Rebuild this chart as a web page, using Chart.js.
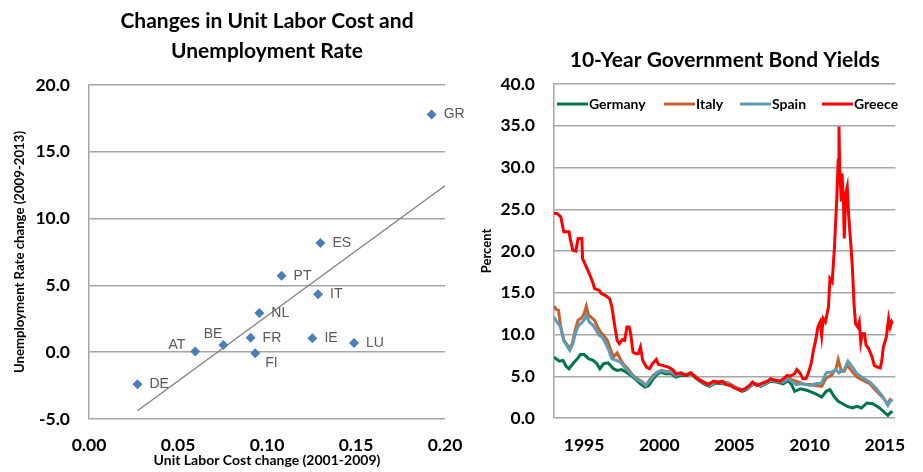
<!DOCTYPE html>
<html>
<head>
<meta charset="utf-8">
<script src="https://cdn.jsdelivr.net/npm/chart.js@4"></script>
<style>
  html, body { margin: 0; padding: 0; background: #fff; }
  body { width: 923px; height: 472px; position: relative; overflow: hidden; }
  canvas { position: absolute; top: 0; }
  #ulcChart { left: 0; }
  #bondChart { left: 470px; }
</style>
</head>
<body>
<canvas id="ulcChart" width="490" height="472"></canvas>
<canvas id="bondChart" width="453" height="472"></canvas>
<script>
// left chart: ULC change vs unemployment change
const countries = ["GR", "ES", "PT", "IT", "NL", "FR", "IE", "LU", "FI", "BE", "AT", "DE"];
const ulcChange = [0.1925, 0.130, 0.1082, 0.1287, 0.0957, 0.0908, 0.1255, 0.1489, 0.0934, 0.0755, 0.0597, 0.0272];
const unempChange = [17.8, 8.17, 5.73, 4.33, 2.93, 1.09, 1.04, 0.69, -0.08, 0.54, 0.06, -2.40];
const trendX = [0.0272, 0.2];
const trendY = [-4.38, 12.46];
const ulcTicks = [0, 0.05, 0.10, 0.15, 0.20];

// right chart: 10y yields, [year, percent]
const years = [1995, 2000, 2005, 2010, 2015];
const germany = [
  [1993.0, 7.3], [1993.35, 6.8], [1993.6, 6.9], [1993.8, 6.2], [1994.0, 5.9], [1994.3, 6.6], [1994.6, 7.2],
  [1994.75, 7.6], [1995.0, 7.6], [1995.3, 7.1], [1995.6, 6.9], [1995.85, 6.5], [1996.05, 5.9], [1996.3, 6.5],
  [1996.6, 6.6], [1996.95, 5.9], [1997.2, 5.7], [1997.5, 5.8], [1997.8, 5.5], [1998.1, 5.1], [1998.45, 4.6],
  [1998.75, 4.1], [1999.05, 3.7], [1999.3, 3.9], [1999.6, 4.7], [1999.85, 5.2], [2000.1, 5.5], [2000.4, 5.3],
  [2000.8, 5.3], [2001.1, 4.9], [2001.45, 5.1], [2001.85, 5.1], [2002.1, 5.3], [2002.4, 4.8], [2002.7, 4.4],
  [2003.05, 4.0], [2003.35, 3.8], [2003.75, 4.2], [2004.2, 4.1], [2004.6, 4.0], [2005.05, 3.6], [2005.5, 3.2],
  [2005.8, 3.4], [2006.2, 4.0], [2006.5, 4.0], [2006.75, 3.8], [2007.1, 4.1], [2007.4, 4.4], [2007.8, 4.3],
  [2008.25, 4.1], [2008.55, 4.5], [2008.8, 4.0], [2009.0, 3.2], [2009.4, 3.5], [2009.85, 3.3], [2010.4, 2.9],
  [2010.8, 2.5], [2011.1, 3.2], [2011.35, 3.4], [2011.65, 2.5], [2011.9, 2.0], [2012.1, 1.8], [2012.5, 1.4],
  [2012.85, 1.2], [2013.15, 1.4], [2013.45, 1.2], [2013.8, 1.8], [2014.2, 1.7], [2014.65, 1.2], [2015.2, 0.3],
  [2015.35, 0.6], [2015.5, 0.8]
];
const italy = [
  [1993.0, 13.4], [1993.15, 13.0], [1993.3, 12.9], [1993.45, 10.8], [1993.65, 9.3], [1993.9, 8.7], [1994.05, 8.3],
  [1994.25, 9.1], [1994.4, 10.5], [1994.6, 11.7], [1994.85, 12.0], [1995.0, 12.5], [1995.15, 13.4], [1995.3, 12.3],
  [1995.45, 12.1], [1995.7, 11.7], [1995.9, 10.9], [1996.1, 10.3], [1996.3, 9.9], [1996.55, 9.3], [1996.75, 8.3],
  [1996.95, 7.3], [1997.2, 7.8], [1997.4, 7.1], [1997.6, 6.5], [1997.9, 5.9], [1998.25, 5.1], [1998.55, 4.7],
  [1998.9, 4.3], [1999.1, 3.9], [1999.3, 4.4], [1999.6, 5.1], [1999.9, 5.5], [2000.15, 5.7], [2000.4, 5.6],
  [2000.8, 5.5], [2001.1, 5.2], [2001.45, 5.3], [2001.85, 5.2], [2002.1, 5.4], [2002.4, 5.0], [2002.7, 4.6],
  [2003.05, 4.2], [2003.35, 4.0], [2003.75, 4.4], [2004.2, 4.3], [2004.6, 4.2], [2005.05, 3.7], [2005.5, 3.4],
  [2005.8, 3.5], [2006.2, 4.1], [2006.5, 4.1], [2006.75, 3.9], [2007.1, 4.2], [2007.4, 4.6], [2007.8, 4.5],
  [2008.25, 4.4], [2008.55, 4.8], [2008.8, 4.6], [2009.1, 4.4], [2009.4, 4.2], [2009.75, 4.0], [2010.1, 4.0],
  [2010.4, 3.9], [2010.8, 3.8], [2011.1, 4.8], [2011.45, 5.1], [2011.75, 5.9], [2011.9, 7.0], [2012.1, 5.6],
  [2012.3, 5.6], [2012.5, 6.3], [2012.85, 5.5], [2013.15, 4.9], [2013.55, 4.5], [2014.0, 4.1], [2014.4, 3.3],
  [2014.85, 2.5], [2015.2, 1.7], [2015.35, 2.2], [2015.5, 2.0]
];
const spain = [
  [1993.0, 12.1], [1993.2, 11.5], [1993.45, 10.9], [1993.65, 9.3], [1993.9, 8.5], [1994.05, 8.1], [1994.25, 8.9],
  [1994.45, 10.3], [1994.65, 11.1], [1994.9, 11.5], [1995.05, 11.9], [1995.15, 12.3], [1995.35, 11.5], [1995.6, 11.1],
  [1995.8, 10.5], [1996.0, 9.9], [1996.2, 9.7], [1996.45, 8.9], [1996.65, 8.1], [1996.85, 7.1], [1997.15, 6.9],
  [1997.4, 6.7], [1997.6, 6.3], [1997.9, 5.7], [1998.25, 5.0], [1998.55, 4.6], [1998.9, 4.2], [1999.1, 3.9],
  [1999.3, 4.3], [1999.6, 5.0], [1999.9, 5.5], [2000.15, 5.7], [2000.4, 5.5], [2000.8, 5.5], [2001.1, 5.1],
  [2001.45, 5.3], [2001.85, 5.2], [2002.1, 5.4], [2002.4, 4.9], [2002.7, 4.5], [2003.05, 4.1], [2003.35, 3.9],
  [2003.75, 4.3], [2004.2, 4.2], [2004.6, 4.1], [2005.05, 3.6], [2005.5, 3.3], [2005.8, 3.5], [2006.2, 4.0],
  [2006.5, 4.0], [2006.75, 3.9], [2007.1, 4.2], [2007.4, 4.5], [2007.8, 4.4], [2008.25, 4.3], [2008.55, 4.7],
  [2008.8, 4.4], [2009.1, 4.0], [2009.4, 4.1], [2009.75, 4.0], [2010.1, 3.9], [2010.4, 4.1], [2010.8, 4.2],
  [2011.1, 5.4], [2011.45, 5.5], [2011.75, 5.8], [2011.95, 5.4], [2012.1, 5.6], [2012.3, 5.8], [2012.55, 6.8],
  [2012.85, 6.1], [2013.15, 5.3], [2013.55, 4.8], [2014.0, 4.3], [2014.4, 3.6], [2014.85, 2.6], [2015.2, 1.5],
  [2015.35, 2.0], [2015.5, 2.2]
];
const greece = [
  [1993.0, 24.5], [1993.2, 24.5], [1993.45, 24.1], [1993.65, 22.3], [1994.0, 22.3], [1994.1, 21.3], [1994.25, 20.1],
  [1994.45, 20.0], [1994.6, 21.5], [1994.85, 21.5], [1994.9, 19.1], [1995.15, 18.1], [1995.35, 17.3], [1995.6, 16.1],
  [1995.7, 15.5], [1996.0, 15.3], [1996.15, 14.9], [1996.4, 14.7], [1996.7, 14.3], [1996.85, 13.3], [1996.95, 12.1],
  [1997.05, 10.9], [1997.2, 9.3], [1997.35, 8.9], [1997.55, 9.4], [1997.7, 9.3], [1997.85, 10.9], [1998.0, 10.9],
  [1998.1, 10.1], [1998.25, 7.9], [1998.45, 7.7], [1998.6, 7.7], [1998.75, 8.5], [1998.9, 6.9], [1999.15, 6.1],
  [1999.35, 5.9], [1999.55, 6.5], [1999.8, 7.0], [1999.95, 6.4], [2000.2, 6.3], [2000.6, 6.1], [2000.9, 5.8],
  [2001.1, 5.3], [2001.45, 5.4], [2001.75, 5.1], [2002.1, 5.4], [2002.4, 4.9], [2002.7, 4.5], [2003.05, 4.2],
  [2003.25, 4.0], [2003.6, 4.4], [2003.9, 4.2], [2004.2, 4.4], [2004.45, 4.0], [2004.75, 3.9], [2005.0, 3.6],
  [2005.4, 3.3], [2005.7, 3.5], [2006.0, 3.9], [2006.2, 4.3], [2006.5, 3.9], [2006.9, 4.2], [2007.2, 4.4],
  [2007.4, 4.7], [2007.75, 4.5], [2008.05, 4.4], [2008.25, 4.7], [2008.5, 5.1], [2008.7, 5.0], [2009.0, 5.3],
  [2009.15, 5.8], [2009.35, 5.4], [2009.55, 4.7], [2009.75, 4.7], [2009.9, 5.3], [2010.1, 6.5], [2010.25, 8.1],
  [2010.4, 9.3], [2010.55, 10.9], [2010.7, 11.5], [2010.8, 9.9], [2010.9, 11.9], [2011.05, 11.5], [2011.25, 13.3],
  [2011.35, 16.7], [2011.5, 16.3], [2011.65, 20.5], [2011.8, 26.1], [2011.9, 30.9], [2011.95, 34.9], [2012.0, 29.7],
  [2012.1, 26.1], [2012.15, 29.3], [2012.25, 25.7], [2012.3, 21.5], [2012.4, 26.9], [2012.5, 27.7], [2012.6, 24.1],
  [2012.75, 20.5], [2012.85, 17.7], [2012.95, 13.7], [2013.05, 11.3], [2013.2, 10.9], [2013.3, 11.5], [2013.4, 9.1],
  [2013.5, 10.1], [2013.65, 10.1], [2013.75, 8.7], [2013.9, 8.4], [2014.15, 7.3], [2014.3, 6.3], [2014.5, 6.1],
  [2014.7, 6.0], [2014.8, 6.9], [2014.9, 8.5], [2015.1, 9.7], [2015.25, 11.9], [2015.35, 10.9], [2015.45, 11.5],
  [2015.5, 11.3]
];

const FONT = "Lato";
const GRID = "#a6a6a6";

// where each country label sits relative to its marker
const labelPlace = {
  FI: [10, 10, "left"],
  BE: [-1, -11, "right"],
  AT: [-10, -6, "right"]
};

const pointLabels = {
  id: "pointLabels",
  afterDatasetsDraw(chart) {
    const meta = chart.getDatasetMeta(0);
    const ctx = chart.ctx;
    ctx.save();
    ctx.font = "14px 'Liberation Sans'";
    ctx.fillStyle = "#595959";
    ctx.textBaseline = "middle";
    meta.data.forEach((pt, i) => {
      const [dx, dy, align] = labelPlace[countries[i]] || [12, 0, "left"];
      ctx.textAlign = align;
      ctx.fillText(countries[i], pt.x + dx, pt.y + dy);
    });
    ctx.restore();
  }
};

new Chart(document.getElementById("ulcChart"), {
  type: "scatter",
  data: {
    datasets: [{
      data: countries.map((c, i) => ({ x: ulcChange[i], y: unempChange[i] })),
      pointStyle: "rectRot",
      pointRadius: 5,
      backgroundColor: "#4a7ebb",
      borderColor: "#4a7ebb",
      borderWidth: 0
    }, {
      data: trendX.map((x, i) => ({ x, y: trendY[i] })),
      showLine: true,
      pointRadius: 0,
      borderColor: "#7f7f7f",
      borderWidth: 1.3
    }]
  },
  options: {
    responsive: false,
    animation: false,
    layout: { padding: { left: 0, right: 45, top: 0, bottom: 0 } },
    plugins: {
      legend: { display: false },
      tooltip: { enabled: false },
      title: {
        display: true,
        fullSize: false,
        text: ["Changes in Unit Labor Cost and", "Unemployment Rate"],
        color: "#000",
        font: { family: FONT, size: 21, weight: "bold", lineHeight: 1.43 },
        padding: { top: 6, bottom: 19 }
      }
    },
    scales: {
      x: {
        type: "linear",
        min: 0,
        max: 0.2,
        afterBuildTicks: (s) => { s.ticks = ulcTicks.map(v => ({ value: v })); },
        afterFit: (s) => { s.height = 53; },
        ticks: {
          callback: (v) => v.toFixed(2),
          color: "#000",
          padding: 16,
          maxRotation: 0,
          font: { family: FONT, size: 17.5, weight: "bold" }
        },
        grid: { display: false, drawTicks: false },
        border: { display: false },
        title: {
          display: true,
          text: "Unit Labor Cost change (2001-2009)",
          color: "#000",
          font: { family: FONT, size: 14, weight: "bold" },
          padding: { top: 0, bottom: 3 }
        }
      },
      y: {
        min: -5,
        max: 20,
        afterFit: (s) => { s.width = 89; },
        ticks: {
          stepSize: 5,
          callback: (v) => v.toFixed(1),
          color: "#000",
          padding: 19,
          font: { family: FONT, size: 17.5, weight: "bold" }
        },
        grid: { color: GRID, lineWidth: 1.5, drawTicks: false },
        border: { display: true, color: GRID, width: 1.5 },
        title: {
          display: true,
          text: "Unemployment Rate change (2009-2013)",
          color: "#000",
          font: { family: FONT, size: 13.2, weight: "bold" },
          padding: { top: 12, bottom: 0 }
        }
      }
    }
  },
  plugins: [pointLabels]
});

// legend drawn inside the plot: line swatch then label, at fixed offsets from the plot's left edge
const legendOffsets = [3, 110, 186, 268];
const lineLegend = {
  id: "lineLegend",
  afterDraw(chart) {
    const ctx = chart.ctx;
    const { left, top } = chart.chartArea;
    const y = top + 20;
    ctx.save();
    ctx.font = `bold 14px ${FONT}`;
    ctx.textBaseline = "middle";
    ctx.textAlign = "left";
    chart.data.datasets.forEach((ds, i) => {
      const x = left + legendOffsets[i];
      ctx.strokeStyle = ds.borderColor;
      ctx.lineWidth = 3;
      ctx.beginPath();
      ctx.moveTo(x, y);
      ctx.lineTo(x + 31, y);
      ctx.stroke();
      ctx.fillStyle = "#000";
      ctx.fillText(ds.label, x + 32, y);
    });
    ctx.restore();
  }
};

function series(label, rows, color, order) {
  return {
    label,
    data: rows.map(([x, y]) => ({ x, y })),
    borderColor: color,
    backgroundColor: color,
    borderWidth: 3,
    pointRadius: 0,
    tension: 0,
    order
  };
}

new Chart(document.getElementById("bondChart"), {
  type: "line",
  data: {
    datasets: [
      series("Germany", germany, "#00754a", 3),
      series("Italy", italy, "#c8602e", 2),
      series("Spain", spain, "#5e9cb3", 1),
      series("Greece", greece, "#ff0000", 0)
    ]
  },
  options: {
    responsive: false,
    animation: false,
    layout: { padding: { left: 0, right: 15, top: 0, bottom: 0 } },
    plugins: {
      legend: { display: false },
      tooltip: { enabled: false },
      title: {
        display: true,
        fullSize: false,
        text: "10-Year Government Bond Yields",
        color: "#000",
        font: { family: FONT, size: 21, weight: "bold", lineHeight: 1.43 },
        padding: { top: 45, bottom: 9 }
      }
    },
    scales: {
      x: {
        type: "linear",
        min: 1993,
        max: 2015.7,
        afterBuildTicks: (s) => { s.ticks = years.map(v => ({ value: v })); },
        afterFit: (s) => { s.height = 54; },
        ticks: {
          callback: (v) => String(v),
          color: "#000",
          padding: 17,
          maxRotation: 0,
          font: { family: FONT, size: 17.5, weight: "bold" }
        },
        grid: { display: false, drawTicks: false },
        border: { display: false }
      },
      y: {
        min: 0,
        max: 40,
        afterFit: (s) => { s.width = 84; },
        ticks: {
          stepSize: 5,
          callback: (v) => v.toFixed(1),
          color: "#000",
          padding: 19,
          font: { family: FONT, size: 17.5, weight: "bold" }
        },
        grid: { color: GRID, lineWidth: 1.5, drawTicks: false },
        border: { display: true, color: GRID, width: 1.5 },
        title: {
          display: true,
          text: "Percent",
          color: "#000",
          font: { family: FONT, size: 13, weight: "bold" },
          padding: { top: 9, bottom: 0 }
        }
      }
    }
  },
  plugins: [lineLegend]
});
</script>
</body>
</html>
